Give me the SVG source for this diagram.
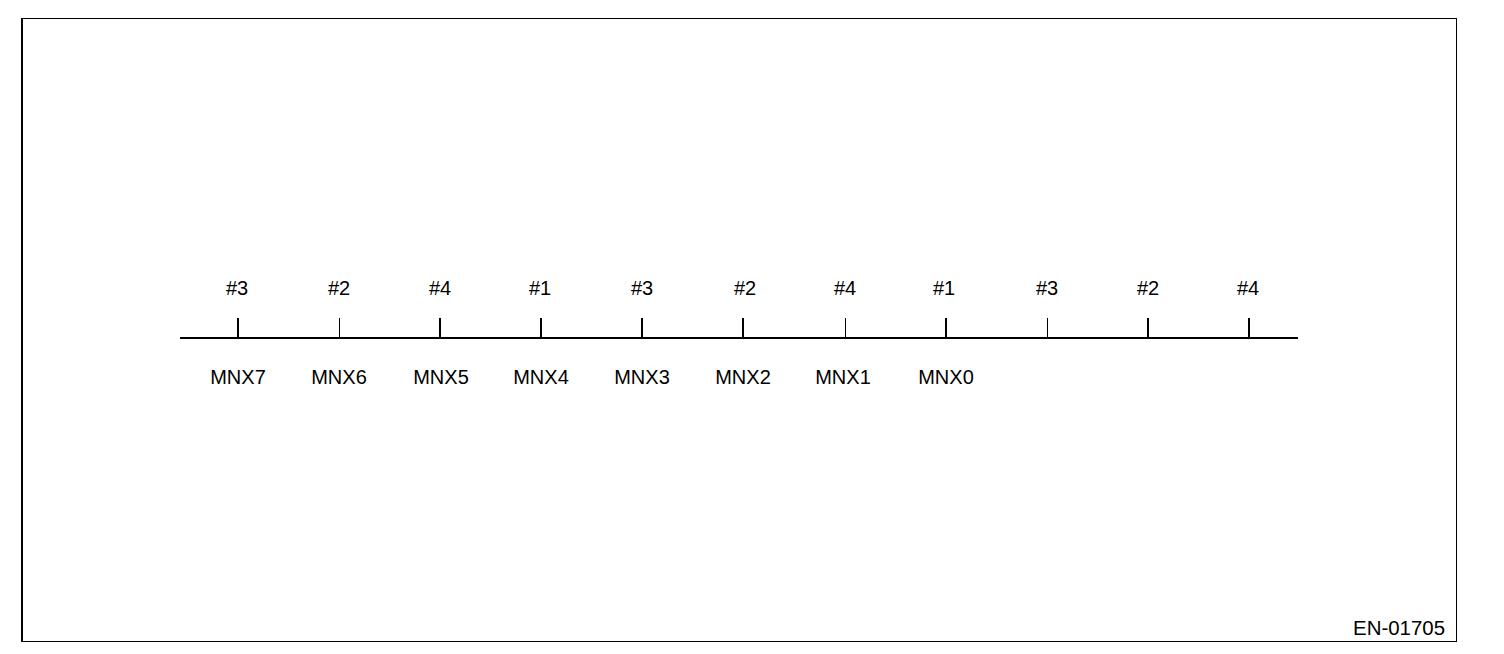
<svg xmlns="http://www.w3.org/2000/svg" width="1504" height="654" viewBox="0 0 1504 654">
<style>
.t{font-family:"Liberation Sans",Arial,sans-serif;font-size:20px;fill:#000;text-anchor:middle}
.f{stroke:#000;fill:none}
.k{stroke:#000;stroke-width:2}
.kt{stroke:#000;stroke-width:1}
</style>
<rect width="1504" height="654" fill="#fff"/>
<g id="frame">
<line class="f" x1="22" y1="18.5" x2="1456" y2="18.5" stroke-width="1"/>
<line class="f" x1="1456.5" y1="18" x2="1456.5" y2="641" stroke-width="1"/>
<line class="f" x1="22" y1="641.5" x2="1457" y2="641.5" stroke-width="1"/>
<line class="f" x1="22" y1="18" x2="22" y2="642" stroke-width="2"/>
</g>
<g id="connectors">
<line class="k" x1="180" y1="338" x2="1298" y2="338"/>
<line class="k" x1="238" y1="318" x2="238" y2="338"/>
<line class="kt" x1="339.5" y1="318" x2="339.5" y2="338"/>
<line class="k" x1="440" y1="318" x2="440" y2="338"/>
<line class="k" x1="541" y1="318" x2="541" y2="338"/>
<line class="k" x1="642" y1="318" x2="642" y2="338"/>
<line class="k" x1="743" y1="318" x2="743" y2="338"/>
<line class="kt" x1="845.5" y1="318" x2="845.5" y2="338"/>
<line class="k" x1="946" y1="318" x2="946" y2="338"/>
<line class="kt" x1="1047.5" y1="318" x2="1047.5" y2="338"/>
<line class="k" x1="1148" y1="318" x2="1148" y2="338"/>
<line class="k" x1="1249" y1="318" x2="1249" y2="338"/>
</g>
<g id="cylinders">
<text class="t" x="237" y="295">#3</text>
<text class="t" x="339" y="295">#2</text>
<text class="t" x="440" y="295">#4</text>
<text class="t" x="540" y="295">#1</text>
<text class="t" x="642" y="295">#3</text>
<text class="t" x="745" y="295">#2</text>
<text class="t" x="845" y="295">#4</text>
<text class="t" x="944" y="295">#1</text>
<text class="t" x="1047" y="295">#3</text>
<text class="t" x="1148" y="295">#2</text>
<text class="t" x="1248" y="295">#4</text>
</g>
<g id="mnx">
<text class="t" x="238" y="384">MNX7</text>
<text class="t" x="339" y="384">MNX6</text>
<text class="t" x="441" y="384">MNX5</text>
<text class="t" x="541" y="384">MNX4</text>
<text class="t" x="642" y="384">MNX3</text>
<text class="t" x="743" y="384">MNX2</text>
<text class="t" x="843" y="384">MNX1</text>
<text class="t" x="946" y="384">MNX0</text>
</g>
<g id="code">
<text class="t" x="1399" y="635" textLength="92" lengthAdjust="spacingAndGlyphs">EN-01705</text>
</g>
</svg>
